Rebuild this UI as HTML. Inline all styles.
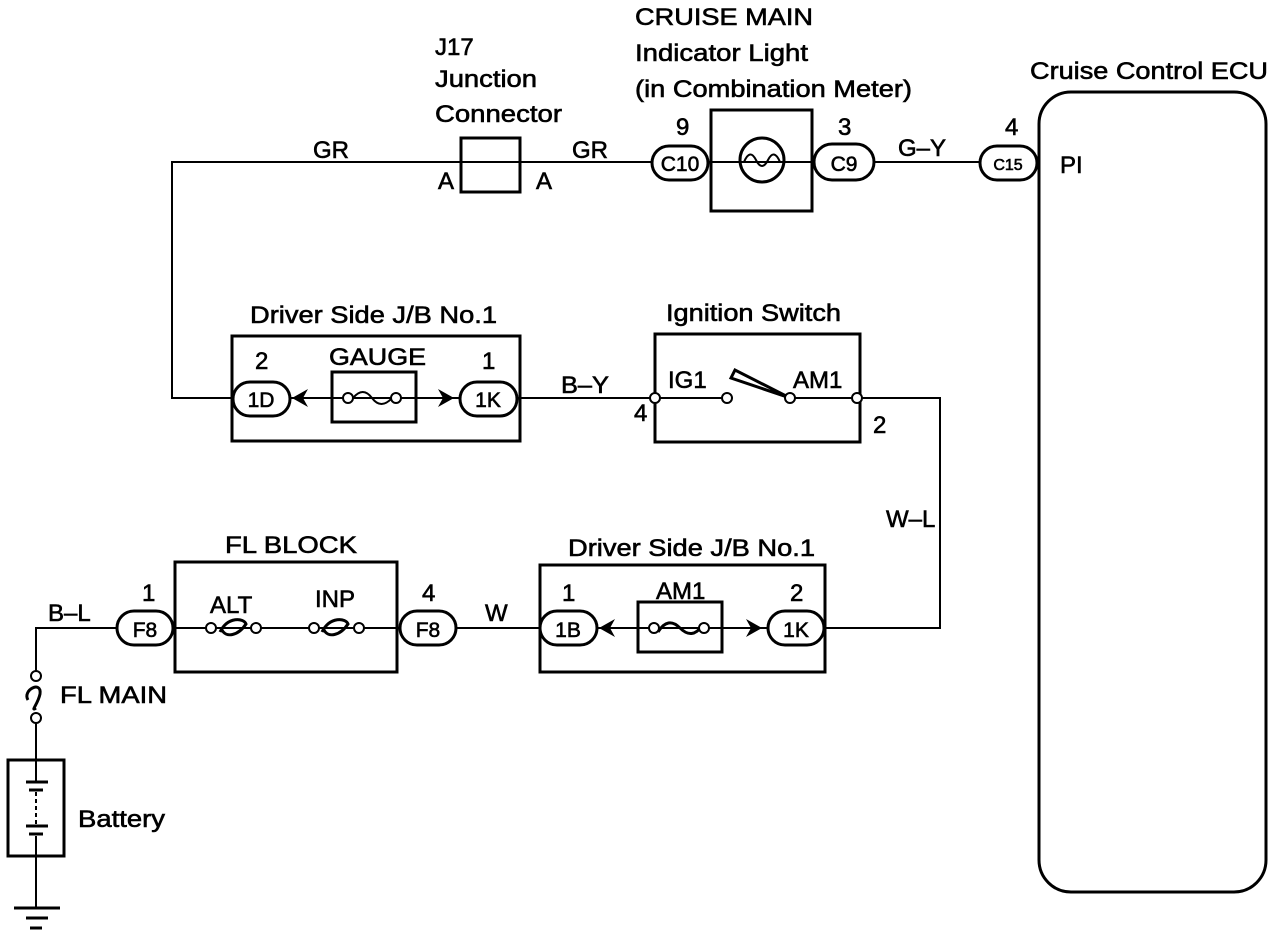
<!DOCTYPE html>
<html><head><style>body{margin:0;background:#fff}svg{display:block}text{font-family:"Liberation Sans",Arial,sans-serif;fill:#000;stroke:#000;stroke-width:0.6}</style></head><body>
<svg width="1280" height="938" viewBox="0 0 1280 938" xmlns="http://www.w3.org/2000/svg">
<g stroke="#000" fill="none" stroke-width="2">
<polyline points="232,398 172,398 172,162 652,162"/>
<line x1="708" y1="162" x2="814" y2="162"/>
<line x1="874" y1="162" x2="980" y2="162"/>
<rect x="461" y="138" width="59" height="54" stroke-width="3"/>
<rect x="711" y="110" width="101" height="101" stroke-width="3"/>
<circle cx="762" cy="160" r="22" stroke-width="3"/>
<path d="M744,162 Q750,148 756,160 Q762,172 768,160 Q774,148 780,162" stroke-width="2"/>
<rect x="1039" y="92" width="227" height="800" rx="32" stroke-width="3"/>
<rect x="232" y="336" width="288" height="105" stroke-width="3"/>
<rect x="332" y="372" width="84" height="50" stroke-width="3"/>
<line x1="290" y1="398" x2="460" y2="398"/>
<line x1="517" y1="398" x2="655" y2="398"/>
<rect x="655" y="334" width="205" height="108" stroke-width="3"/>
<line x1="655" y1="398" x2="727" y2="398"/>
<line x1="790" y1="398" x2="857" y2="398"/>
<polyline points="857,398 940,398 940,628 824,628"/>
<polygon points="790,398 735,370 731,378" stroke-width="3"/>
<rect x="540" y="565" width="285" height="107" stroke-width="3"/>
<rect x="638" y="602" width="84" height="50" stroke-width="3"/>
<line x1="597" y1="628" x2="768" y2="628"/>
<line x1="456" y1="628" x2="540" y2="628"/>
<rect x="175" y="562" width="222" height="110" stroke-width="3"/>
<line x1="173" y1="628" x2="400" y2="628"/>
<polyline points="117,628 36,628 36,672"/>
<line x1="36" y1="722" x2="36" y2="760"/>
<rect x="8" y="760" width="56" height="96" stroke-width="3"/>
<line x1="36" y1="760" x2="36" y2="782"/>
<line x1="26" y1="782" x2="48" y2="782" stroke-width="3"/>
<line x1="29" y1="790" x2="43" y2="790" stroke-width="3"/>
<line x1="36" y1="792" x2="36" y2="826" stroke-dasharray="4,3"/>
<line x1="26" y1="826" x2="48" y2="826" stroke-width="3"/>
<line x1="29" y1="834" x2="43" y2="834" stroke-width="3"/>
<line x1="36" y1="836" x2="36" y2="908"/>
<line x1="14" y1="908" x2="60" y2="908" stroke-width="3"/>
<line x1="26" y1="918" x2="48" y2="918" stroke-width="3"/>
<line x1="30" y1="928" x2="42" y2="928" stroke-width="3"/>
<path d="M28,700 C22,690 42,680 40,694 C38,704 30,712 36,708" stroke-width="3"/>
<path d="M220,632 C228,616 244,618 246,624 C238,636 226,638 222,630" stroke-width="3"/>
<path d="M322,632 C330,616 346,618 348,624 C340,636 328,638 324,630" stroke-width="3"/>
<path d="M658,632 Q668,616 680,628 Q692,640 702,626" stroke-width="3"/>
<path d="M353,398 Q363,386 372,398 Q381,410 392,398" stroke-width="2"/>
</g>
<g fill="#fff" stroke="#000" stroke-width="2">
<circle cx="36" cy="676" r="5"/><circle cx="36" cy="718" r="5"/>
<circle cx="211" cy="628" r="5"/><circle cx="256" cy="628" r="5"/>
<circle cx="314" cy="628" r="5"/><circle cx="359" cy="628" r="5"/>
<circle cx="348" cy="398" r="5"/><circle cx="396" cy="398" r="5"/>
<circle cx="654" cy="628" r="5"/><circle cx="704" cy="628" r="5"/>
<circle cx="655" cy="398" r="5"/><circle cx="727" cy="398" r="5"/><circle cx="790" cy="398" r="5"/><circle cx="857" cy="398" r="5"/>
<rect x="652" y="146" width="56" height="34" rx="17" stroke-width="3"/>
<rect x="814" y="144" width="60" height="36" rx="18" stroke-width="3"/>
<rect x="980" y="146" width="57" height="34" rx="17" stroke-width="3"/>
<rect x="233" y="382" width="57" height="34" rx="17" stroke-width="3"/>
<rect x="460" y="382" width="57" height="34" rx="17" stroke-width="3"/>
<rect x="540" y="611" width="57" height="34" rx="17" stroke-width="3"/>
<rect x="768" y="611" width="56" height="34" rx="17" stroke-width="3"/>
<rect x="117" y="611" width="56" height="34" rx="17" stroke-width="3"/>
<rect x="400" y="611" width="56" height="34" rx="17" stroke-width="3"/>
</g>
<g fill="#000">
<polygon points="292,398 308,389 303,398 308,407"/>
<polygon points="454,398 438,389 443,398 438,407"/>
<polygon points="599,628 615,619 610,628 615,637"/>
<polygon points="762,628 746,619 751,628 746,637"/>
</g>
<g font-size="24">
<text x="635" y="25" textLength="178" lengthAdjust="spacingAndGlyphs">CRUISE MAIN</text>
<text x="635" y="61" textLength="173" lengthAdjust="spacingAndGlyphs">Indicator Light</text>
<text x="635" y="97" textLength="277" lengthAdjust="spacingAndGlyphs">(in Combination Meter)</text>
<text x="435" y="55">J17</text>
<text x="435" y="87" textLength="102" lengthAdjust="spacingAndGlyphs">Junction</text>
<text x="435" y="122" textLength="127" lengthAdjust="spacingAndGlyphs">Connector</text>
<text x="1030" y="79" textLength="238" lengthAdjust="spacingAndGlyphs">Cruise Control ECU</text>
<text x="313" y="158">GR</text>
<text x="572" y="158">GR</text>
<text x="898" y="156">G–Y</text>
<text x="438" y="189">A</text>
<text x="536" y="189">A</text>
<text x="676" y="135">9</text>
<text x="838" y="135">3</text>
<text x="1005" y="135">4</text>
<text x="1060" y="173">PI</text>
<text x="250" y="323" textLength="247" lengthAdjust="spacingAndGlyphs">Driver Side J/B No.1</text>
<text x="666" y="321" textLength="175" lengthAdjust="spacingAndGlyphs">Ignition Switch</text>
<text x="329" y="365" textLength="97" lengthAdjust="spacingAndGlyphs">GAUGE</text>
<text x="255" y="369">2</text>
<text x="482" y="369">1</text>
<text x="561" y="393" textLength="48" lengthAdjust="spacingAndGlyphs">B–Y</text>
<text x="668" y="388">IG1</text>
<text x="793" y="388">AM1</text>
<text x="634" y="421">4</text>
<text x="873" y="433">2</text>
<text x="886" y="527">W–L</text>
<text x="568" y="556" textLength="247" lengthAdjust="spacingAndGlyphs">Driver Side J/B No.1</text>
<text x="225" y="553" textLength="132" lengthAdjust="spacingAndGlyphs">FL BLOCK</text>
<text x="656" y="599">AM1</text>
<text x="562" y="601">1</text>
<text x="790" y="601">2</text>
<text x="142" y="601">1</text>
<text x="422" y="601">4</text>
<text x="485" y="621">W</text>
<text x="48" y="621">B–L</text>
<text x="210" y="613">ALT</text>
<text x="315" y="607">INP</text>
<text x="60" y="703" textLength="107" lengthAdjust="spacingAndGlyphs">FL MAIN</text>
<text x="78" y="827" textLength="87" lengthAdjust="spacingAndGlyphs">Battery</text>
<g font-size="21" text-anchor="middle">
<text x="680" y="171">C10</text>
<text x="844" y="171">C9</text>
<text x="261" y="407">1D</text>
<text x="488" y="407">1K</text>
<text x="568" y="637">1B</text>
<text x="796" y="637">1K</text>
<text x="145" y="637">F8</text>
<text x="428" y="637">F8</text>
<text x="1008" y="170" font-size="16">C15</text>
</g>
</g>
</svg>
</body></html>
